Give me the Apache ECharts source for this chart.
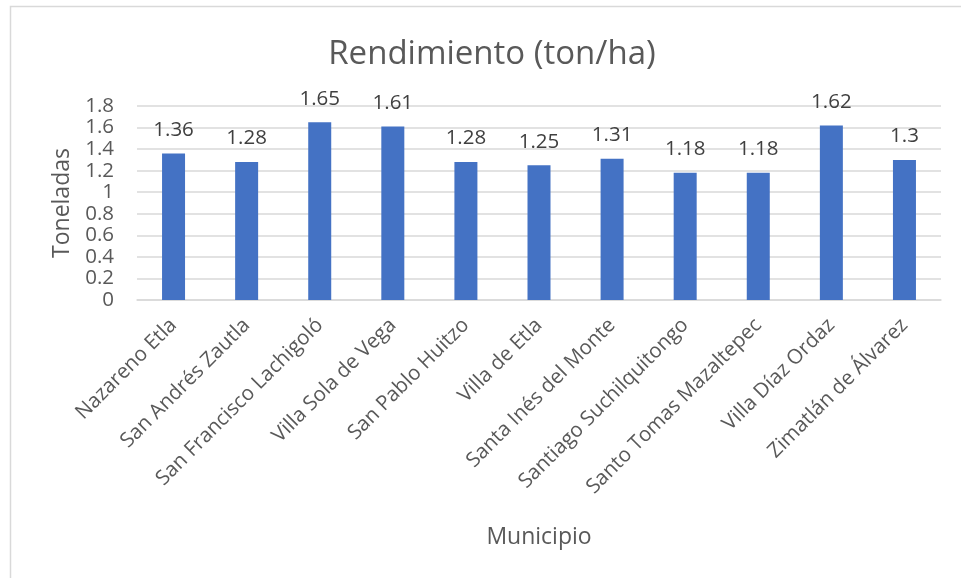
<!DOCTYPE html>
<html>
<head>
<meta charset="utf-8">
<script src="https://cdn.jsdelivr.net/npm/echarts@6/dist/echarts.min.js"></script>
<style>html,body{margin:0;padding:0;background:#fff;}#c{width:961px;height:578px;}</style>
</head>
<body>
<div id="c"></div>
<script>
const categories = ["Nazareno Etla","San Andrés Zautla","San Francisco Lachigoló","Villa Sola de Vega","San Pablo Huitzo","Villa de Etla","Santa Inés del Monte","Santiago Suchilquitongo","Santo Tomas Mazaltepec","Villa Díaz Ordaz","Zimatlán de Álvarez"];
const rendimiento = [1.36,1.28,1.65,1.61,1.28,1.25,1.31,1.18,1.18,1.62,1.3];
const yTicks = [0,0.2,0.4,0.6,0.8,1,1.2,1.4,1.6,1.8];

const FONT = "'Open Sans', 'Noto Sans', sans-serif";
const TXT = '#595959';
const chart = echarts.init(document.getElementById('c'), null, {renderer:'canvas'});
chart.setOption({
  animation:false,
  backgroundColor:'#fff',
  textStyle:{fontFamily:FONT},
  title:{text:'Rendimiento (ton/ha)', left:487, textAlign:'center', top:33,
    textStyle:{fontFamily:FONT, fontSize:33, fontWeight:'normal', color:TXT}},
  graphic:[
    {type:'polyline', shape:{points:[[10.5,600],[10.5,6.5],[961,6.5]]}, style:{stroke:'#D9D9D9', lineWidth:1.5, fill:null}, silent:true}
  ],
  grid:{left:137, right:20, top:106, bottom:278, containLabel:false},
  xAxis:{type:'category', data:categories,
    name:'Municipio', nameLocation:'middle', nameGap:226,
    nameTextStyle:{fontFamily:FONT, fontSize:23, color:TXT},
    axisLine:{show:true, lineStyle:{color:'#D9D9D9', width:1.5}},
    axisTick:{show:false},
    axisLabel:{rotate:45, interval:0, margin:22, fontFamily:FONT, fontSize:20.5, color:TXT}},
  yAxis:{type:'value', min:0, max:1.8, interval:0.2,
    name:'Toneladas', nameLocation:'middle', nameGap:63, nameRotate:90,
    nameTextStyle:{fontFamily:FONT, fontSize:23, color:TXT},
    axisLine:{show:false}, axisTick:{show:false},
    splitLine:{lineStyle:{color:'#D9D9D9', width:1.5}},
    axisLabel:{margin:23, fontFamily:FONT, fontSize:20.5, color:TXT,
      formatter:function(v){ const t = yTicks.find(x=>Math.abs(x-v)<1e-9); return t===undefined?'':String(t); }}},
  series:[{type:'bar', data:rendimiento, barWidth:23,
    itemStyle:{color:'#4472C4'},
    label:{show:true, position:'top', distance:13, fontFamily:FONT, fontSize:20.5, color:'#404040',
      formatter:function(p){return String(p.value);}}}]
});
</script>
</body>
</html>
